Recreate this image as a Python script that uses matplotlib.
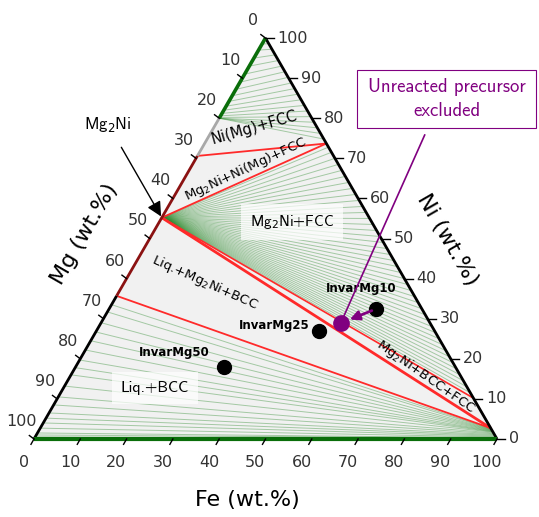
import numpy as np
import matplotlib.pyplot as plt
import matplotlib.patches as mpatches

# Samples (wt.%): Invar powder with 10, 25 and 50 wt.% Mg
sample_names = ['InvarMg10', 'InvarMg25', 'InvarMg50']
sample_fe = [57.6, 48.0, 32.0]
sample_ni = [32.4, 27.0, 18.0]

# composition once the unreacted precursor is left out
precursor_fe = 51.8
precursor_ni = 28.9

# corners of the three-phase triangles, as (Fe, Ni)
mg2ni = (0.0, 55.2)
nimg = (0.0, 70.6)
fcc_hi = (26.3, 73.7)
fcc_lo = (89.8, 10.2)
bcc = (97.3, 2.7)
liq = (0.0, 35.7)

# tie lines of the two-phase fields
fan_ni = [11.5, 13, 14.5, 16, 17.5, 19, 20.5, 22, 23.5, 25, 26.5, 28, 29.5, 31,
          32.5, 34, 35.5, 37, 38.5, 40, 41.5, 43, 44.5, 46, 47.5, 49, 50.5, 52,
          53.5, 55, 56.5, 58, 59.5, 61, 62.5, 64, 65.5, 67, 68.5, 70, 71.5, 72.8]
top_left_ni = [80, 80, 80, 80, 80.2, 80.6, 81.2, 82, 83, 84.2, 85.6, 87.2,
               89, 91, 93, 95, 97, 98.5]
top_right_ni = [74.8, 76.2, 77.6, 79, 80.4, 81.8, 83.2, 84.6, 86, 87.4, 88.8,
                90.2, 91.6, 93, 94.4, 95.8, 97.2, 98.6]
liq_ni = [33.5, 31.7, 29, 26.7, 24.5, 22.2, 19.7, 17.8, 16.0, 13.2, 10.5, 8.5,
          6.5, 5.2, 4.0, 2.7, 1.5, 1.0, 0.5]
bcc_ni = [2.6, 2.5, 2.4, 2.3, 2.2, 2.1, 2.0, 1.9, 1.8, 1.7, 1.5, 1.3, 1.1, 0.9,
          0.7, 0.5, 0.3, 0.2, 0.1]

ticks = list(range(0, 101, 10))

h = np.sqrt(3) / 2


def xy(fe, ni):
    return fe + ni * 0.5, ni * h


def seg(p, q, **kw):
    a = xy(*p)
    b = xy(*q)
    ax.plot([a[0], b[0]], [a[1], b[1]], solid_capstyle='butt', **kw)


fig = plt.figure(figsize=(5.39, 5.17), dpi=100)
ax = fig.add_axes([0, 0, 1, 1])
ax.set_xlim(-7.34, 109.07)
ax.set_ylim(-16.85, 94.82)
ax.axis('off')

# background of the triangle
ax.add_patch(mpatches.Polygon([xy(0, 0), xy(100, 0), xy(0, 100)], closed=True,
                              facecolor='#f1f1f1', edgecolor='none', zorder=0))

tie = dict(color='#2e8b2e', alpha=0.4, lw=0.7, zorder=1)
for n in fan_ni:
    seg(mg2ni, (100 - n, n), **tie)
for a, b in zip(top_left_ni, top_right_ni):
    seg((0, a), (100 - b, b), **tie)
for a, b in zip(liq_ni, bcc_ni):
    seg((0, a), (100 - b, b), **tie)

# phase boundaries
red = '#ff2a2a'
seg(mg2ni, fcc_hi, color=red, lw=1.3, zorder=3)
seg(nimg, fcc_hi, color=red, lw=1.3, zorder=3)
seg(mg2ni, fcc_lo, color=red, lw=1.2, zorder=3)
seg(fcc_lo, bcc, color=red, lw=1.2, zorder=3)
seg(mg2ni, bcc, color=red, lw=2.0, zorder=3)
seg(liq, bcc, color=red, lw=1.3, zorder=3)

# triangle edges
seg((100, 0), (0, 100), color='black', lw=2, zorder=4)
seg((0, 0), liq, color='black', lw=2, zorder=4)
seg(liq, nimg, color='#8b1212', lw=2, zorder=4)
seg(nimg, (0, 80), color='#a8a8a8', lw=2, zorder=4)
seg((0, 80), (0, 100), color='#0a6e0a', lw=2.6, zorder=4)
seg((0, 0), (100, 0), color='#0a6e0a', lw=3, zorder=4)

# ticks and tick labels
for v in ticks:
    x, y = xy(v, 0)
    ax.plot([x, x - 0.65], [y, y - 1.15], color='black', lw=1, zorder=4)
    ax.text(x - 2.2, y - 5.0, str(v), fontsize=11.5, color='#333333',
            ha='center', va='center')
    x, y = xy(0, 100 - v)
    ax.plot([x, x - 1.0], [y, y + 0.75], color='black', lw=1, zorder=4)
    ax.text(x - 2.6, y + 3.8, str(v), fontsize=11.5, color='#333333',
            ha='center', va='center')
    x, y = xy(100 - v, v)
    ax.plot([x, x + 1.8], [y, y], color='black', lw=1, zorder=4)
    ax.text(x + 2.6, y, str(v), fontsize=11.5, color='#333333',
            ha='left', va='center')

ax.text(46.0, -13.2, 'Fe (wt.%)', fontsize=16, ha='center', va='center')
ax.text(11.0, 44.3, 'Mg (wt.%)', fontsize=16, rotation=60,
        ha='center', va='center', rotation_mode='anchor')
ax.text(89.3, 43.0, 'Ni (wt.%)', fontsize=16, rotation=-60,
        ha='center', va='center', rotation_mode='anchor')

# phase field labels
ax.text(47.5, 67.2, 'Ni(Mg)+FCC', fontsize=10.5, rotation=16,
        ha='center', va='center', rotation_mode='anchor', zorder=5)
ax.text(45.8, 58.3, 'Mg$_2$Ni+Ni(Mg)+FCC', fontsize=9.5, rotation=25,
        ha='center', va='center', rotation_mode='anchor', zorder=5)
ax.text(55.7, 46.9, 'Mg$_2$Ni+FCC', fontsize=11, family='cmss10',
        ha='center', va='center', zorder=5,
        bbox=dict(boxstyle='square,pad=0.6', facecolor='white',
                  edgecolor='none', alpha=0.7))
ax.text(36.9, 33.9, 'Liq.+Mg$_2$Ni+BCC', fontsize=9.5, rotation=-24,
        ha='center', va='center', rotation_mode='anchor', zorder=5)
ax.text(84.7, 13.4, 'Mg$_2$Ni+BCC+FCC', fontsize=9.5, rotation=-35,
        ha='center', va='center', rotation_mode='anchor', zorder=5)
ax.text(26.1, 11.0, 'Liq.+BCC', fontsize=11.5, family='cmss10',
        ha='center', va='center', zorder=5,
        bbox=dict(boxstyle='square,pad=0.55', facecolor='white',
                  edgecolor='none', alpha=0.7))

# Mg2Ni compound marker
ax.annotate('Mg$_2$Ni', xy=xy(*mg2ni), xytext=(16.0, 68.0), fontsize=12,
            family='cmss10', ha='center', va='center', zorder=6,
            arrowprops=dict(arrowstyle='-|>', color='black', lw=1,
                            mutation_scale=22, shrinkA=9, shrinkB=1))

# samples
purple = '#800080'
sx, sy = xy(np.array(sample_fe), np.array(sample_ni))
ax.plot(sx, sy, 'o', color='black', markersize=10, zorder=7)
label_pos = [(70.6, 32.6), (51.8, 24.6), (30.2, 18.6)]
for name, (lx, ly) in zip(sample_names, label_pos):
    ax.text(lx, ly, name, fontsize=8.5, fontweight='bold', ha='center',
            va='center', zorder=7)

px, py = xy(precursor_fe, precursor_ni)
ax.plot(px, py, 'o', color=purple, markersize=11, zorder=8)
ax.annotate('', xy=(px, py), xytext=(sx[0], sy[0]), zorder=8,
            arrowprops=dict(arrowstyle='-|>', color=purple, lw=2,
                            mutation_scale=14, shrinkA=3, shrinkB=7))
ax.annotate('', xy=(px, py), xytext=(84.4, 65.7), zorder=8,
            arrowprops=dict(arrowstyle='-', color=purple, lw=1.2,
                            shrinkA=0, shrinkB=0))

ax.add_patch(mpatches.Rectangle((69.8, 67.2), 38.6, 12.5, facecolor='white',
                                edgecolor=purple, lw=0.8, zorder=8))
ax.text(89.2, 73.5, 'Unreacted precursor\nexcluded', fontsize=13.5,
        family='cmss10', color=purple, ha='center', va='center',
        linespacing=1.4, zorder=9)

fig.savefig('out.png', dpi=100)
